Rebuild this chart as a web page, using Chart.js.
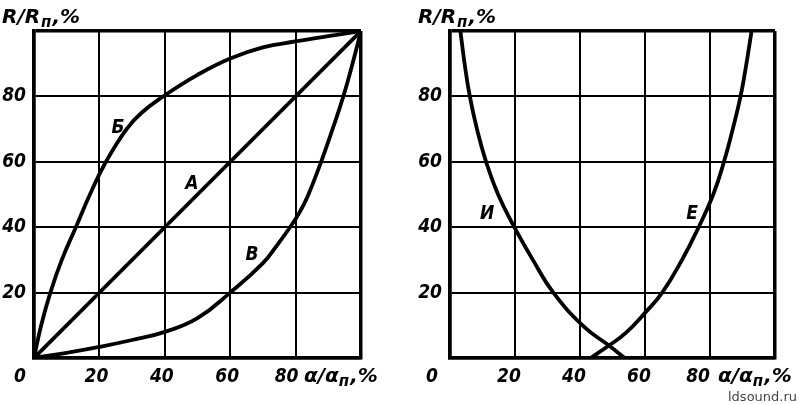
<!DOCTYPE html>
<html>
<head>
<meta charset="utf-8">
<script src="https://cdn.jsdelivr.net/npm/chart.js@4.4.1/dist/chart.umd.min.js"></script>
<style>
  html, body { margin: 0; padding: 0; background: #fff; }
  #wrap { position: relative; width: 800px; height: 405px; overflow: hidden; }
  canvas { position: absolute; top: 0; }
  #c1 { left: 0; }
  #c2 { left: 400px; }
  #wm { position: absolute; left: 728px; top: 389px; font: 13px 'DejaVu Sans', sans-serif; color: #444; }
</style>
</head>
<body>
<div id="wrap">
  <canvas id="c1" width="400" height="405"></canvas>
  <canvas id="c2" width="400" height="405"></canvas>
  <div id="wm">ldsound.ru</div>
</div>
<script>
// ---- data ----
const tickValues = [0, 20, 40, 60, 80, 100];

// left chart
const curveA_x = [0, 100];
const curveA_y = [0, 100];
const curveB6_x = [0, 2.2, 5, 8.5, 12.8, 17.1, 22, 28.3, 32.9, 39.5, 50, 60, 70, 80, 90, 100];
const curveB6_y = [0, 10, 20, 30, 40, 50, 60, 70, 75, 80, 86.6, 91.6, 95, 96.8, 98.4, 100];
const curveV_x = [0, 10, 20, 30, 40, 50, 60, 70, 74.7, 78.3, 81, 83.7, 87.8, 91.3, 94.6, 97.4, 100];
const curveV_y = [0, 1.6, 3.4, 5.5, 8, 12.2, 20, 29, 35, 40, 44.2, 49.5, 60, 70, 80, 90, 100];

// right chart
const curveI_x = [3.2, 4.5, 6.1, 8.3, 11.1, 14.8, 19.8, 25.5, 31.8, 41.2, 48.9, 53.8];
const curveI_y = [100, 90, 80, 70, 60, 50, 40, 30, 20, 9.6, 3.8, 0];
const curveE_x = [43.3, 48.9, 54, 60, 65.3, 71.5, 76.5, 81, 84.3, 87, 89.4, 91.2, 92.8];
const curveE_y = [0, 3.8, 7.6, 13.8, 20, 30.2, 40, 50, 60, 70, 80, 90, 100];

// curve names and the data point their label sits at
const leftLabels = ['Б', 'А', 'В'];
const leftLabelX = [25.7, 48.3, 66.7];
const leftLabelY = [71, 53.8, 32];
const rightLabels = ['И', 'Е'];
const rightLabelX = [11.4, 74.5];
const rightLabelY = [44.6, 44.6];

// ---- helpers ----
const FAM = "'DejaVu Sans Condensed', 'DejaVu Sans', sans-serif";
const TFAM = "'DejaVu Sans', sans-serif";
const titleFont = "italic bold 20px " + TFAM;
const subFont = "italic bold 15px " + TFAM;
const labelFont = "italic bold 19px " + FAM;

function pts(xs, ys) { return xs.map((x, i) => ({ x: x, y: ys[i] })); }

function drawParts(ctx, x, y, parts) {
  let cx = x;
  parts.forEach(p => {
    ctx.font = p.sub ? subFont : titleFont;
    ctx.fillText(p.t, cx, y + (p.sub ? 4 : 0));
    cx += ctx.measureText(p.t).width + (p.gap || 0);
  });
}

function makeChart(id, datasets, names, nx, ny, padLeftW, padRight, tickShift, zeroShift) {
  const textPlugin = {
    id: 'texts',
    afterDraw(chart) {
      const ctx = chart.ctx;
      const a = chart.chartArea;
      const xs = chart.scales.x, ys = chart.scales.y;
      ctx.save();
      ctx.fillStyle = '#000';
      ctx.textBaseline = 'alphabetic';
      ctx.textAlign = 'left';
      // y axis title
      drawParts(ctx, a.left - 32, a.top - 8, [{ t: 'R/R', gap: 1 }, { t: 'п', sub: true, gap: 1 }, { t: ',%' }]);
      // x axis title
      drawParts(ctx, a.right - 57, a.bottom + 24, [{ t: 'α/α', gap: 0 }, { t: 'п', sub: true, gap: 1 }, { t: ',%' }]);
      // origin 0
      ctx.font = labelFont;
      ctx.textAlign = 'center';
      ctx.fillText('0', xs.getPixelForValue(0) + zeroShift, a.bottom + 24);
      // curve names
      names.forEach((n, i) => {
        ctx.fillText(n, xs.getPixelForValue(nx[i]), ys.getPixelForValue(ny[i]) + 7);
      });
      ctx.restore();
    }
  };
  const gridW = c => (c.tick && (c.tick.value === 0 || c.tick.value === 100)) ? 3.5 : 2;
  const tickFont = { family: FAM, size: 19, style: 'italic', weight: 'bold' };
  return new Chart(document.getElementById(id), {
    type: 'scatter',
    data: {
      datasets: datasets.map(d => ({
        data: d,
        showLine: true,
        borderColor: '#000',
        borderWidth: 3.8,
        pointRadius: 0,
        fill: false,
        tension: 0.45
      }))
    },
    options: {
      responsive: false,
      animation: false,
      events: [],
      layout: { padding: { top: 31, right: padRight, left: 0, bottom: 0 } },
      plugins: { legend: { display: false }, tooltip: { enabled: false } },
      scales: {
        x: {
          type: 'linear', min: 0, max: 100,
          afterBuildTicks: s => { s.ticks = tickValues.map(v => ({ value: v })); },
          afterFit: s => { s.height = 47; },
          grid: { color: '#000', lineWidth: gridW, drawTicks: false },
          border: { display: true, color: '#000', width: 3.5 },
          ticks: {
            padding: 8, color: '#000', labelOffset: tickShift, maxRotation: 0, autoSkip: false,
            font: tickFont,
            callback: v => (v === 0 || v === 100) ? '' : (v === 80 ? '80\u2002\u2009' : String(v))
          }
        },
        y: {
          type: 'linear', min: 0, max: 100,
          afterBuildTicks: s => { s.ticks = tickValues.map(v => ({ value: v })); },
          afterFit: s => { s.width = padLeftW; },
          grid: { color: '#000', lineWidth: gridW, drawTicks: false },
          border: { display: true, color: '#000', width: 3.5 },
          ticks: {
            padding: 8, color: '#000', autoSkip: false,
            font: tickFont,
            callback: v => (v === 0 || v === 100) ? '' : String(v)
          }
        }
      }
    },
    plugins: [textPlugin]
  });
}

makeChart('c1',
  [pts(curveA_x, curveA_y), pts(curveB6_x, curveB6_y), pts(curveV_x, curveV_y)],
  leftLabels, leftLabelX, leftLabelY, 34, 39, -3, -14);
makeChart('c2',
  [pts(curveI_x, curveI_y), pts(curveE_x, curveE_y)],
  rightLabels, rightLabelX, rightLabelY, 50, 25, -6, -18);
</script>
</body>
</html>
